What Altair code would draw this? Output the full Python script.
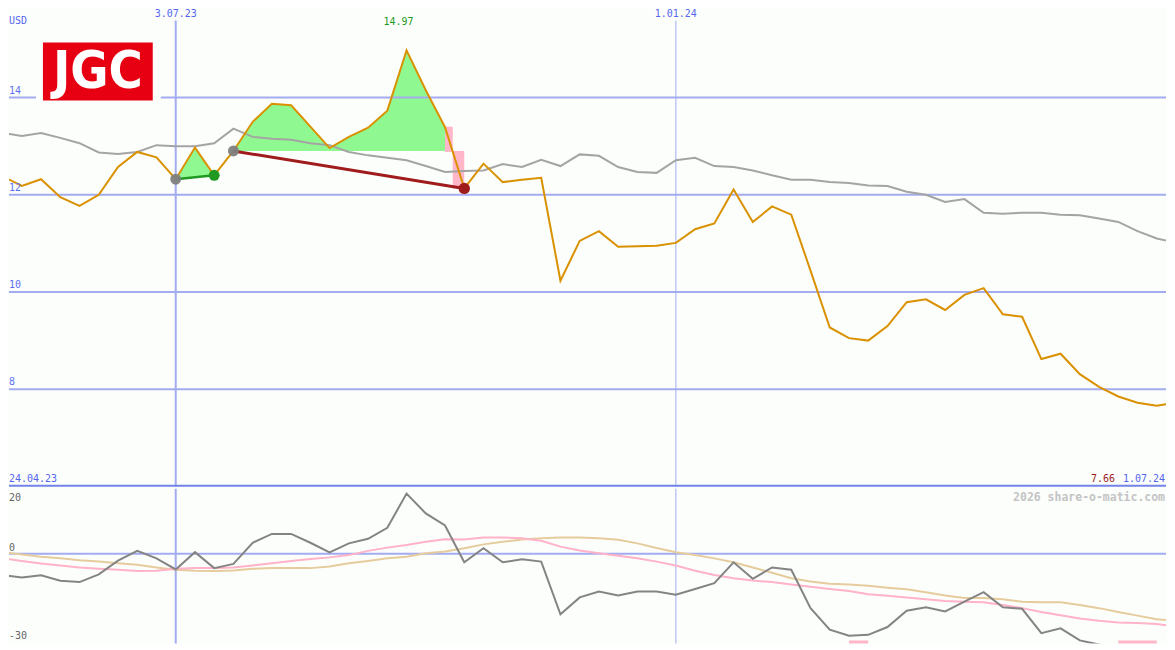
import altair as alt
import pandas as pd

# ---------------- data (weekly, 1.05.23 .. 1.07.24) ----------------
price = [12.38, 12.18, 12.32, 11.95, 11.77, 12.00, 12.57, 12.88, 12.77, 12.32,
         12.97, 12.40, 12.90, 13.50, 13.87, 13.84, 13.40, 12.96, 13.19, 13.38,
         13.73, 14.97, 14.15, 13.39, 12.13, 12.64, 12.26, 12.31, 12.35, 10.23,
         11.05, 11.25, 10.93, 10.94, 10.95, 11.01, 11.29, 11.41, 12.11, 11.44,
         11.76, 11.59, 10.44, 9.27, 9.05, 9.00, 9.30, 9.79, 9.85, 9.63,
         9.94, 10.08, 9.54, 9.49, 8.62, 8.73, 8.31, 8.05, 7.85, 7.72,
         7.66, 7.72]
avg = [13.27, 13.21, 13.27, 13.17, 13.06, 12.87, 12.84, 12.88, 13.02, 13.00,
       13.00, 13.06, 13.36, 13.19, 13.15, 13.13, 13.06, 13.02, 12.88, 12.81,
       12.76, 12.71, 12.59, 12.47, 12.49, 12.50, 12.63, 12.57, 12.72, 12.59,
       12.83, 12.80, 12.57, 12.47, 12.45, 12.71, 12.76, 12.59, 12.57, 12.50,
       12.40, 12.31, 12.31, 12.26, 12.24, 12.19, 12.18, 12.06, 12.00, 11.85,
       11.91, 11.63, 11.61, 11.63, 11.63, 11.59, 11.58, 11.51, 11.44, 11.25,
       11.10, 11.01]
osc = [-6.5, -7.3, -6.6, -8.3, -8.7, -6.3, -2.1, 0.9, -1.4, -4.8,
       0.5, -4.4, -3.1, 3.4, 6.1, 6.1, 3.4, 0.4, 3.2, 4.6,
       8.0, 18.5, 12.4, 8.7, -2.6, 1.7, -2.6, -1.7, -2.4, -18.6,
       -13.4, -11.6, -12.8, -11.6, -11.6, -12.6, -10.8, -9.0, -2.6, -7.7,
       -4.2, -4.9, -16.7, -23.3, -25.2, -24.9, -22.5, -17.5, -16.4, -17.7,
       -14.7, -11.8, -16.4, -16.9, -24.4, -22.9, -26.6, -27.9, -29.3, -29.0,
       -28.7, -27.5]
sig_pink = [-1.4, -2.2, -3.0, -3.6, -4.2, -4.6, -4.9, -5.3, -5.2, -4.6,
            -4.4, -4.4, -4.2, -3.6, -2.9, -2.2, -1.6, -1.1, -0.4, 0.9,
            1.9, 2.7, 3.7, 4.5, 4.4, 5.0, 5.0, 4.8, 4.0, 2.2,
            1.0, 0.2, -0.6, -1.4, -2.4, -3.6, -5.2, -6.5, -7.5, -8.2,
            -8.7, -9.4, -10.1, -10.8, -11.4, -12.4, -12.9, -13.4, -14.0, -14.5,
            -14.7, -14.9, -15.7, -16.7, -17.9, -18.9, -19.9, -20.6, -21.1, -21.3,
            -21.6, -22.3]
sig_tan = [0.5, -0.2, -0.9, -1.4, -2.0, -2.4, -2.9, -3.4, -4.2, -4.9,
           -5.2, -5.3, -5.1, -4.6, -4.4, -4.4, -4.4, -3.9, -2.9, -2.2,
           -1.4, -0.9, 0.2, 0.7, 1.7, 2.9, 3.7, 4.4, 4.8, 5.0,
           5.0, 4.8, 4.3, 3.2, 1.8, 0.5, -0.4, -1.4, -2.6, -4.2,
           -5.8, -7.5, -8.5, -9.2, -9.4, -9.8, -10.4, -10.9, -11.8, -12.8,
           -13.6, -13.6, -14.0, -14.7, -14.9, -14.9, -15.7, -16.7, -17.9, -19.0,
           -20.1, -20.6]

price_ticks = [14, 12, 10, 8]
osc_ticks = ["20", "0", "-30"]
date_ticks_week = [9, 35]
date_ticks_label = ["3.07.23", "1.01.24"]
first_date = "24.04.23"
last_date = "1.07.24"
high_label = "14.97"
low_label = "7.66"
currency = "USD"

# gain / loss zones
gain1_w = [9, 10, 11]
gain1_base = [12.32, 12.36, 12.40]
gain2_w = list(range(12, 24))
gain2_base = [12.90] * len(gain2_w)
loss_x0 = [23.0, 23.4]
loss_x1 = [23.4, 24.0]
loss_y0 = [12.88, 12.13]
loss_y1 = [13.40, 12.90]
green_seg_w = [9, 11]
green_seg_v = [12.32, 12.40]
red_seg_w = [12, 24]
red_seg_v = [12.90, 12.13]
bottom_bar_x0 = [44, 58]
bottom_bar_x1 = [45, 60]

# ---------------- frames ----------------
n = len(price)
df = pd.DataFrame({"w": list(range(n)), "price": price, "avg": avg,
                   "osc": osc, "pink": sig_pink, "tan": sig_tan})
gain_df = pd.DataFrame({
    "w": gain1_w + gain2_w,
    "price": [price[i] for i in gain1_w] + [price[i] for i in gain2_w],
    "base": gain1_base + gain2_base,
    "seg": ["a"] * len(gain1_w) + ["b"] * len(gain2_w),
})
loss_df = pd.DataFrame({"x0": loss_x0, "x1": loss_x1, "y0": loss_y0, "y1": loss_y1})
gseg = pd.DataFrame({"w": green_seg_w, "v": green_seg_v})
rseg = pd.DataFrame({"w": red_seg_w, "v": red_seg_v})
pt_gray = pd.DataFrame({"w": [green_seg_w[0], red_seg_w[0]], "v": [green_seg_v[0], red_seg_v[0]]})
pt_green = pd.DataFrame({"w": [green_seg_w[1]], "v": [green_seg_v[1]]})
pt_red = pd.DataFrame({"w": [red_seg_w[1]], "v": [red_seg_v[1]]})
ptick_df = pd.DataFrame({"v": price_ticks, "lab": [str(t) for t in price_ticks]})
dtick_df = pd.DataFrame({"w": date_ticks_week, "lab": date_ticks_label})
hi_df = pd.DataFrame({"w": [price.index(max(price))], "lab": [high_label]})
bars_df = pd.DataFrame({"x0": bottom_bar_x0, "x1": bottom_bar_x1})
one = pd.DataFrame({"k": [0]})

# whole chart must fit inside the 1175x650 window minus the 8px page margin
W = 1159
HM = 479
HL = 155
XS = alt.Scale(domain=[0.333, 60.48], nice=False, zero=False)
YS = alt.Scale(domain=[5.994, 15.83], nice=False, zero=False)
YL = alt.Scale(domain=[-27.55, 20], nice=False, zero=False)
X = alt.X("w:Q", scale=XS, axis=None)

GRID = "#A3ACF0"
BLUE_TXT = "#5566EE"
MONO = "DejaVu Sans Mono"
LOGO_FONT = "'Liberation Sans Narrow', 'Arial Narrow', 'DejaVu Sans Condensed', 'Liberation Sans', sans-serif"

# ---------------- main panel ----------------
areas = alt.Chart(gain_df).mark_area(color="#90F890", opacity=1, clip=True).encode(
    x=X, y=alt.Y("price:Q", scale=YS, axis=None), y2="base:Q", detail="seg:N")
loss = alt.Chart(loss_df).mark_rect(color="#FFB6C8").encode(
    x=alt.X("x0:Q", scale=XS, axis=None), x2="x1:Q",
    y=alt.Y("y0:Q", scale=YS, axis=None), y2="y1:Q")
hgrid = alt.Chart(ptick_df).mark_rule(color=GRID, strokeWidth=2).encode(
    y=alt.Y("v:Q", scale=YS, axis=None))
vgrid_a = alt.Chart(dtick_df.iloc[:1]).mark_rule(color=GRID, strokeWidth=2).encode(
    x=X, y=alt.value(12), y2=alt.value(HM))
vgrid_b = alt.Chart(dtick_df.iloc[1:]).mark_rule(color=GRID, strokeWidth=1).encode(
    x=X, y=alt.value(12), y2=alt.value(HM))
sep = alt.Chart(one).mark_rule(color="#7383EA", strokeWidth=2).encode(
    y=alt.value(HM - 1))
avg_line = alt.Chart(df).mark_line(color="#A4A4A4", strokeWidth=2, clip=True).encode(
    x=X, y=alt.Y("avg:Q", scale=YS, axis=None))
price_line = alt.Chart(df).mark_line(color="#DA9100", strokeWidth=2, clip=True).encode(
    x=X, y=alt.Y("price:Q", scale=YS, axis=None))
gline = alt.Chart(gseg).mark_line(color="#229922", strokeWidth=2.5).encode(
    x=X, y=alt.Y("v:Q", scale=YS, axis=None))
rline = alt.Chart(rseg).mark_line(color="#A01C1C", strokeWidth=3).encode(
    x=X, y=alt.Y("v:Q", scale=YS, axis=None))
gpts = alt.Chart(pt_gray).mark_circle(color="#808080", size=120, opacity=0.95).encode(
    x=X, y=alt.Y("v:Q", scale=YS, axis=None))
grpts = alt.Chart(pt_green).mark_circle(color="#229922", size=120, opacity=1).encode(
    x=X, y=alt.Y("v:Q", scale=YS, axis=None))
rpts = alt.Chart(pt_red).mark_circle(color="#A01C1C", size=130, opacity=1).encode(
    x=X, y=alt.Y("v:Q", scale=YS, axis=None))

logo_bg = alt.Chart(one).mark_rect(color="#FCFEFC").encode(
    x=alt.value(27), x2=alt.value(152), y=alt.value(26), y2=alt.value(98))
logo_red = alt.Chart(one).mark_rect(color="#E60012").encode(
    x=alt.value(34), x2=alt.value(144), y=alt.value(34), y2=alt.value(92))
logo_txt = alt.Chart(one).mark_text(
    text="JGC", color="white", font=LOGO_FONT, fontWeight="bold",
    fontSize=52, align="center", baseline="middle").encode(
    x=alt.value(89), y=alt.value(64))

ptick_txt = alt.Chart(ptick_df).mark_text(
    font=MONO, fontSize=10, color="#6070EE", align="left", baseline="bottom", dy=-2
).encode(x=alt.value(0), y=alt.Y("v:Q", scale=YS, axis=None), text="lab:N")
dtick_txt = alt.Chart(dtick_df).mark_text(
    font=MONO, fontSize=10, color=BLUE_TXT, align="center", baseline="top"
).encode(x=X, y=alt.value(0), text="lab:N")
usd_txt = alt.Chart(one).mark_text(
    text=currency, font=MONO, fontSize=10, color=BLUE_TXT, align="left", baseline="middle"
).encode(x=alt.value(0), y=alt.value(12))
first_txt = alt.Chart(one).mark_text(
    text=first_date, font=MONO, fontSize=10, color=BLUE_TXT, align="left", baseline="bottom"
).encode(x=alt.value(0), y=alt.value(HM - 3))
last_txt = alt.Chart(one).mark_text(
    text=last_date, font=MONO, fontSize=10, color=BLUE_TXT, align="right", baseline="bottom"
).encode(x=alt.value(W - 1), y=alt.value(HM - 3))
low_txt = alt.Chart(one).mark_text(
    text=low_label, font=MONO, fontSize=10, color="#A01C1C", align="right", baseline="bottom"
).encode(x=alt.value(W - 51), y=alt.value(HM - 3))
hi_txt = alt.Chart(hi_df).mark_text(
    font=MONO, fontSize=10, color="#1E9A1E", align="center", baseline="middle", dx=-8
).encode(x=X, y=alt.value(13), text="lab:N")

main = alt.layer(
    areas, loss, hgrid, vgrid_a, vgrid_b, sep, avg_line, price_line,
    gline, rline, gpts, grpts, rpts, logo_bg, logo_red, logo_txt,
    ptick_txt, dtick_txt, usd_txt, first_txt, last_txt, low_txt, hi_txt,
).properties(width=W, height=HM)

# ---------------- lower panel ----------------
zero = alt.Chart(one).mark_rule(color=GRID, strokeWidth=2).encode(
    y=alt.Y("z:Q", scale=YL, axis=None)).transform_calculate(z="0")
lv_a = alt.Chart(dtick_df.iloc[:1]).mark_rule(color=GRID, strokeWidth=2).encode(
    x=X, y=alt.value(0), y2=alt.value(HL))
lv_b = alt.Chart(dtick_df.iloc[1:]).mark_rule(color=GRID, strokeWidth=1).encode(
    x=X, y=alt.value(0), y2=alt.value(HL))
tan_line = alt.Chart(df).mark_line(color="#E6CC9C", strokeWidth=2, clip=True).encode(
    x=X, y=alt.Y("tan:Q", scale=YL, axis=None))
pink_line = alt.Chart(df).mark_line(color="#FFB2C8", strokeWidth=2, clip=True).encode(
    x=X, y=alt.Y("pink:Q", scale=YL, axis=None))
osc_line = alt.Chart(df).mark_line(color="#848484", strokeWidth=2, clip=True).encode(
    x=X, y=alt.Y("osc:Q", scale=YL, axis=None))
bars = alt.Chart(bars_df).mark_rect(color="#FFB6C8").encode(
    x=alt.X("x0:Q", scale=XS, axis=None), x2="x1:Q",
    y=alt.value(HL - 3), y2=alt.value(HL))
otick = alt.Chart(pd.DataFrame({"lab": osc_ticks, "yy": [9, 59.5, 148]})).mark_text(
    font=MONO, fontSize=10, color="#666666", align="left", baseline="middle"
).encode(x=alt.value(0), y=alt.Y("yy:Q", scale=None), text="lab:N")
wm = alt.Chart(one).mark_text(
    text="2026 share-o-matic.com", font=MONO, fontSize=11.5, fontWeight="bold",
    color="#C4C4C4", align="right", baseline="middle"
).encode(x=alt.value(W - 1), y=alt.value(9))

lower = alt.layer(zero, lv_a, lv_b, tan_line, pink_line, osc_line, bars, otick, wm
                  ).properties(width=W, height=HL)

chart = alt.vconcat(main, lower, spacing=0).properties(
    padding=0, background="#FCFEFC"
).configure_view(stroke=None).configure_concat(spacing=0)

chart.save("out.html", embed_options={"renderer": "svg", "actions": False})
